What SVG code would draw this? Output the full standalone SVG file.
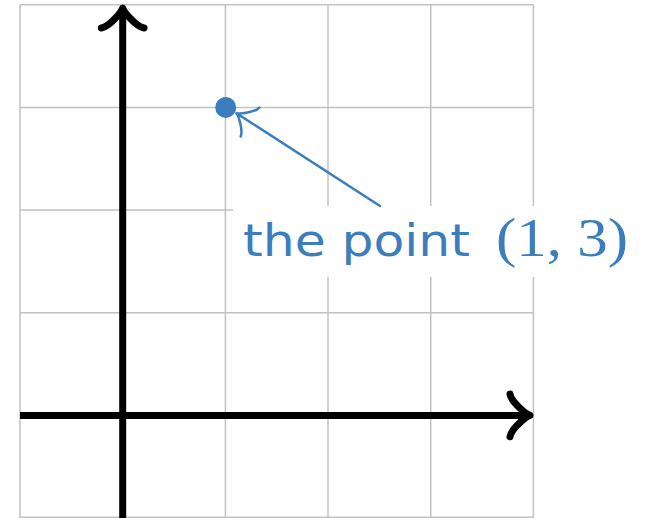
<svg xmlns="http://www.w3.org/2000/svg" width="647" height="518" viewBox="0 0 647 518">
<style>
.grid{stroke:#c2c2c2;stroke-width:1.5;fill:none}
.axis{stroke:#000;stroke-width:7;fill:none}
.tip{stroke:#000;stroke-width:7;fill:none;stroke-linecap:round;stroke-linejoin:round}
.blue{stroke:#3b7dbd;stroke-width:2.5;fill:none;stroke-linecap:round;stroke-linejoin:round}
.lbl{fill:#3b7dbd}
</style>
<defs>
<path id="bigTip" d="M -20,21.3 C -18.7,13.3 -4,1.3 0,0 C -4,-1.3 -18.7,-13.3 -20,-21.3"/>
<path id="smallTip" d="M -16.1,17.2 C -15,10.75 -3.2,1.1 0,0 C -3.2,-1.1 -15,-10.75 -16.1,-17.2"/>
</defs>
<rect width="647" height="518" fill="#fff"/>
<g id="grid" class="grid">
<path d="M20,4.7V518 M122.7,4.7V518 M225.4,4.7V518 M328,4.7V518 M430.7,4.7V518 M533.4,4.7V518"/>
<path d="M20,4.7H533.4 M20,107.4H533.4 M20,210H533.4 M20,312.7H533.4 M20,415.4H533.4 M20,517.3H533.4"/>
</g>
<g id="axes">
<path class="axis" d="M20,415.4H529"/>
<use href="#bigTip" class="tip" transform="translate(530,415.4)"/>
<path class="axis" d="M122.7,518V9"/>
<use href="#bigTip" class="tip" transform="translate(122.7,8) rotate(-90)"/>
</g>
<g id="point">
<circle cx="225.7" cy="107.4" r="10.5" fill="#3b7dbd"/>
</g>
<g id="label">
<rect x="233" y="206" width="407" height="71" fill="#fff"/>
<text class="lbl" x="243" y="256" font-family="DejaVu Sans, sans-serif" font-size="45" textLength="227" lengthAdjust="spacingAndGlyphs">the point</text>
<text class="lbl" x="496" y="256" font-family="Liberation Serif, serif" font-size="54" textLength="132" lengthAdjust="spacingAndGlyphs">(1, 3)</text>
</g>
<g id="connectors">
<path class="blue" d="M380,206 L237,113.6"/>
<use href="#smallTip" class="blue" transform="translate(236.5,113.3) rotate(-147.1)"/>
</g>
</svg>
